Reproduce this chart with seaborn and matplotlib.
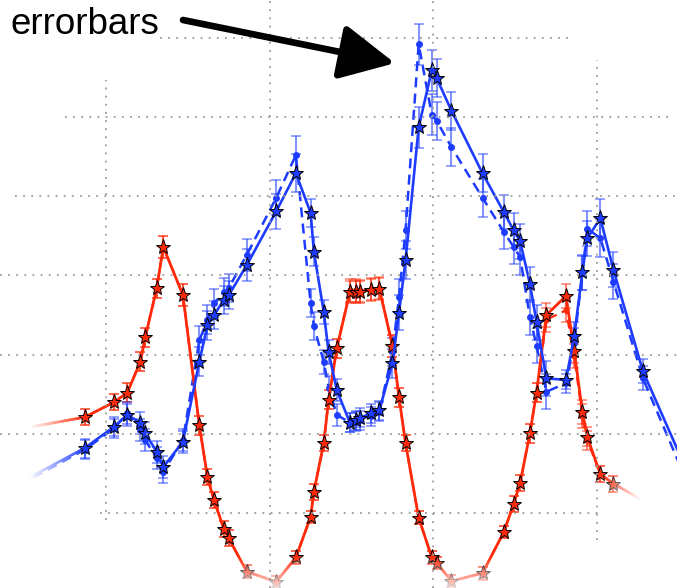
import numpy as np
import matplotlib
matplotlib.use("Agg")
import matplotlib.pyplot as plt
import seaborn as sns

# ---------------- data ----------------
x_red = [0.47, 0.87, 1.05, 1.13, 1.21, 1.24, 1.31, 1.35, 1.47, 1.57, 1.62, 1.66, 1.72, 1.75, 1.86,
         2.04, 2.16, 2.25, 2.27, 2.33, 2.36, 2.41, 2.49, 2.53, 2.55, 2.62, 2.67, 2.75, 2.79, 2.83,
         2.91, 2.99, 3.02, 3.11, 3.30, 3.43, 3.49, 3.53, 3.59, 3.63, 3.69, 3.81, 3.86, 3.91, 3.94,
         4.02, 4.10, 4.28, 4.38]
red_solid = [1.06, 1.21, 1.40, 1.52, 1.91, 2.22, 2.84, 3.36, 2.75, 1.11, 0.45, 0.16, -0.20, -0.32, -0.74,
             -0.87, -0.56, -0.05, 0.27, 0.88, 1.43, 2.08, 2.79, 2.79, 2.79, 2.82, 2.83, 2.11, 1.46, 0.88,
             -0.06, -0.56, -0.63, -0.86, -0.76, -0.24, 0.11, 0.38, 1.01, 1.52, 2.50, 2.74, 2.05, 1.28, 0.96,
             0.49, 0.37, 0.16, 0.09]
red_dashed = [1.06, 1.21, 1.40, 1.52, 1.91, 2.22, 2.84, 3.36, 2.75, 1.11, 0.45, 0.16, -0.20, -0.32, -0.74,
              -0.87, -0.56, -0.05, 0.27, 0.88, 1.43, 2.08, 2.81, 2.81, 2.80, 2.83, 2.84, 2.11, 1.46, 0.88,
              -0.06, -0.56, -0.63, -0.86, -0.76, -0.24, 0.11, 0.38, 1.01, 1.52, 2.44, 2.56, 1.98, 1.22, 0.92,
              0.49, 0.37, 0.16, 0.09]
red_err = [0.10, 0.10, 0.10, 0.12, 0.12, 0.12, 0.12, 0.14, 0.14, 0.12, 0.10, 0.10, 0.10, 0.10, 0.08,
           0.08, 0.08, 0.08, 0.10, 0.10, 0.12, 0.12, 0.14, 0.14, 0.14, 0.14, 0.14, 0.14, 0.12, 0.10,
           0.08, 0.08, 0.08, 0.08, 0.08, 0.08, 0.10, 0.10, 0.12, 0.12, 0.15, 0.15, 0.15, 0.15, 0.12,
           0.10, 0.10, 0.08, 0.08]

x_blue = [0.47, 0.87, 1.05, 1.13, 1.21, 1.24, 1.31, 1.35, 1.47, 1.57, 1.62, 1.66, 1.72, 1.75, 1.86,
          2.04, 2.16, 2.25, 2.27, 2.33, 2.36, 2.41, 2.49, 2.53, 2.55, 2.62, 2.67, 2.75, 2.79, 2.83,
          2.91, 2.99, 3.02, 3.11, 3.30, 3.43, 3.49, 3.53, 3.59, 3.63, 3.69, 3.81, 3.86, 3.91, 3.94,
          4.02, 4.10, 4.28, 4.57]
blue_solid = [0.38, 0.82, 1.09, 1.24, 1.14, 1.01, 0.77, 0.58, 0.90, 1.91, 2.37, 2.50, 2.69, 2.75, 3.13,
              3.81, 4.29, 3.79, 3.30, 2.54, 2.03, 1.55, 1.14, 1.17, 1.20, 1.26, 1.30, 1.89, 2.53, 3.19,
              4.87, 5.59, 5.49, 5.08, 4.29, 3.80, 3.57, 3.43, 2.89, 2.41, 1.70, 1.68, 2.23, 3.04, 3.47,
              3.72, 3.07, 1.79, 0.43]
blue_dashed = [0.35, 0.80, 1.07, 1.26, 1.05, 0.92, 0.69, 0.52, 0.92, 2.18, 2.44, 2.65, 2.79, 2.84, 3.26,
               3.98, 4.52, 2.65, 2.36, 1.91, 1.58, 1.24, 1.14, 1.15, 1.17, 1.22, 1.28, 2.03, 2.73, 3.57,
               5.92, 5.03, 4.95, 4.62, 3.98, 3.55, 3.36, 3.23, 2.47, 2.11, 1.53, 1.64, 2.15, 3.03, 3.59,
               3.47, 2.92, 1.70, 0.29]
blue_err = [0.10, 0.12, 0.12, 0.14, 0.14, 0.14, 0.14, 0.14, 0.14, 0.18, 0.18, 0.18, 0.18, 0.18, 0.20,
            0.22, 0.24, 0.18, 0.18, 0.15, 0.15, 0.14, 0.12, 0.12, 0.12, 0.12, 0.12, 0.18, 0.22, 0.24,
            0.26, 0.26, 0.24, 0.24, 0.24, 0.22, 0.22, 0.22, 0.22, 0.22, 0.22, 0.12, 0.18, 0.22, 0.22,
            0.24, 0.22, 0.15, 0.10]

grid_x = [1, 2, 3, 4]
grid_y = [0, 1, 2, 3, 4, 5, 6]
annotation_text = "errorbars"

# ---------------- style ----------------
sns.set_theme(style="white")
plt.rcParams["font.family"] = ["Liberation Sans", "DejaVu Sans"]

RED = "#ff2a0a"
BLUE = "#1e3cff"

W, H = 677, 588
fig = plt.figure(figsize=(W / 100, H / 100), dpi=100)
ax = fig.add_axes([0, 0, 1, 1])
ax.set_axis_off()

# errorbars
for xs, ys, err, col in [(x_red, red_dashed, red_err, RED), (x_red, red_solid, red_err, RED),
                         (x_blue, blue_dashed, blue_err, BLUE), (x_blue, blue_solid, blue_err, BLUE)]:
    ax.errorbar(xs, ys, yerr=err, fmt="none", ecolor=col, alpha=0.55,
                elinewidth=1.5, capsize=3.8, capthick=1.2, zorder=2)

# lines
sns.lineplot(x=x_red, y=red_dashed, ax=ax, color=RED, linestyle=(0, (4, 2.5)), linewidth=1.6,
             marker="o", markersize=4.5, markeredgewidth=0, sort=False, zorder=2.5)
sns.lineplot(x=x_red, y=red_solid, ax=ax, color=RED, linestyle="-", linewidth=2.0,
             marker="*", markersize=11, markeredgecolor="black", markeredgewidth=0.7,
             sort=False, zorder=3)
sns.lineplot(x=x_blue, y=blue_dashed, ax=ax, color=BLUE, linestyle=(0, (4, 2.5)), linewidth=1.8,
             marker="o", markersize=5, markeredgewidth=0, sort=False, zorder=2.6)
sns.lineplot(x=x_blue, y=blue_solid, ax=ax, color=BLUE, linestyle="-", linewidth=1.9,
             marker="*", markersize=11, markeredgecolor="black", markeredgewidth=0.7,
             sort=False, zorder=3.1)

# fade overlay (vignette)
px, py = np.meshgrid(np.arange(W) + 0.5, np.arange(H) + 0.5)
a_left = np.clip((85 - px) / 55.0, 0, 1)
a_bottom = np.clip((py - 556) / 38.0, 0, 1)
a_br = np.clip((px - 598) / 42.0, 0, 1) * np.clip((py - 462) / 25.0, 0, 1)
alpha = np.maximum(np.maximum(a_left, a_bottom), a_br)
rgba = np.ones((H, W, 4))
rgba[..., 3] = alpha
ax.imshow(rgba, extent=[0, 1, 0, 1], transform=ax.transAxes, aspect="auto",
          origin="upper", zorder=4, interpolation="bilinear")

# dotted grid (drawn manually to match the faded extents)
gkw = dict(color="#9a9a9a", linewidth=1.3, linestyle=(0, (1, 3.5)), zorder=5)
h_extents = [(0.148, 0.886), (0.0, 1.0), (0.0, 1.0), (0.0, 1.0), (0.022, 1.0), (0.096, 0.99), (0.236, 0.842)]
for gy, (a, b) in zip(grid_y, h_extents):
    ax.axhline(gy, xmin=a, xmax=b, **gkw)
v_extents = [(0.116, 0.864), (0.0, 1.0), (0.0, 1.0), (0.082, 0.898)]
for gx, (a, b) in zip(grid_x, v_extents):
    ax.axvline(gx, ymin=a, ymax=b, **gkw)

ax.set_xlim(1 - 106 / 163.7, 1 + (W - 106) / 163.7)
ax.set_ylim((513 - H) / 79.2, 513 / 79.2)

# annotation
ax.text(10 / W, 1 - 34 / H, annotation_text, transform=ax.transAxes, fontsize=26.5,
        ha="left", va="baseline", color="black", zorder=6)
ax.annotate("", xy=(2.765, 5.68), xycoords="data",
            xytext=(183 / W, 1 - 20 / H), textcoords="axes fraction",
            arrowprops=dict(arrowstyle="-|>,head_length=1.2,head_width=0.6", color="black",
                            lw=4.8, mutation_scale=28, shrinkA=0, shrinkB=0),
            zorder=6)

fig.savefig("out.png", dpi=100)
